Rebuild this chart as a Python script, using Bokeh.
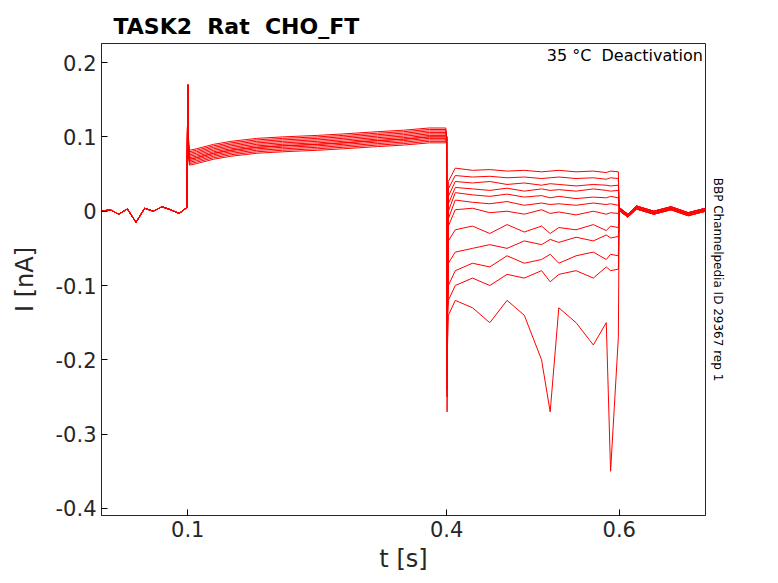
from bokeh.plotting import figure
from bokeh.embed import file_html
from bokeh.resources import INLINE
from bokeh.models import Range1d, FixedTicker, Title, Label

# baseline + activation segment (shared time points)
t_act = [0.0, 0.01, 0.02, 0.03, 0.04, 0.05, 0.06, 0.07, 0.08, 0.09, 0.099, 0.1, 0.1005, 0.101, 0.102, 0.11, 0.13, 0.15, 0.18, 0.21, 0.25, 0.28, 0.32, 0.35, 0.38, 0.399]
i_act = [0.0, 0.002, -0.004, 0.003, -0.015, 0.004, 0.0, 0.006, 0.002, -0.003, 0.005, 0.17, 0.12, 0.08, 0.07, 0.072, 0.078, 0.082, 0.086, 0.088, 0.09, 0.092, 0.095, 0.097, 0.1, 0.1]
act_offsets = [0.012, 0.008, 0.004, 0.0, -0.004, -0.006, 0.01, -0.002, 0.006, 0.002, -0.008, 0.0]

# deactivation tails
t_tail = [0.4, 0.4005, 0.402, 0.41, 0.43, 0.45, 0.47, 0.49, 0.51, 0.52, 0.53, 0.55, 0.57, 0.585, 0.59, 0.599]
tails = [
    [0.1, -0.27, 0.04, 0.058, 0.055, 0.056, 0.054, 0.055, 0.053, 0.054, 0.055, 0.053, 0.054, 0.052, 0.054, 0.053],
    [0.1, -0.25, 0.03, 0.048, 0.046, 0.047, 0.045, 0.046, 0.044, 0.045, 0.046, 0.044, 0.045, 0.043, 0.045, 0.044],
    [0.1, -0.24, 0.02, 0.04, 0.038, 0.04, 0.036, 0.038, 0.035, 0.037, 0.036, 0.034, 0.036, 0.035, 0.034, 0.035],
    [0.1, -0.22, 0.01, 0.032, 0.03, 0.028, 0.031, 0.027, 0.03, 0.028, 0.029, 0.027, 0.03, 0.028, 0.027, 0.028],
    [0.1, -0.2, 0.0, 0.025, 0.022, 0.02, 0.023, 0.019, 0.021, 0.018, 0.02, 0.017, 0.019, 0.018, 0.02, 0.018],
    [0.1, -0.19, -0.01, 0.015, 0.012, 0.01, 0.013, 0.008, 0.011, 0.009, 0.01, 0.008, 0.011, 0.009, 0.01, 0.008],
    [0.1, -0.18, -0.02, 0.002, 0.004, -0.002, 0.0, -0.004, 0.002, -0.003, -0.001, -0.005, 0.0, -0.004, -0.002, -0.003],
    [0.1, -0.17, -0.04, -0.025, -0.02, -0.03, -0.018, -0.028, -0.02, -0.03, -0.022, -0.025, -0.018, -0.026, -0.02, -0.022],
    [0.1, -0.16, -0.07, -0.055, -0.05, -0.045, -0.05, -0.04, -0.045, -0.038, -0.042, -0.035, -0.04, -0.032, -0.036, -0.034],
    [0.1, -0.15, -0.1, -0.08, -0.07, -0.075, -0.06, -0.07, -0.065, -0.058, -0.07, -0.06, -0.055, -0.065, -0.058, -0.06],
    [0.1, -0.15, -0.12, -0.1, -0.09, -0.1, -0.085, -0.09, -0.08, -0.095, -0.085, -0.08, -0.09, -0.075, -0.08, -0.078],
    [0.1, -0.2, -0.14, -0.12, -0.13, -0.15, -0.12, -0.14, -0.2, -0.27, -0.13, -0.15, -0.18, -0.15, -0.35, -0.17],
]
t_after = [0.6, 0.601, 0.61, 0.62, 0.64, 0.66, 0.68, 0.7]
i_after = [0.0, 0.0, -0.008, 0.003, -0.004, 0.002, -0.006, 0.0]
y_ticks = [-0.4, -0.3, -0.2, -0.1, 0, 0.1, 0.2]
y_tick_labels = ["-0.4", "-0.3", "-0.2", "-0.1", "0", "0.1", "0.2"]

p = figure(width=778, height=583, output_backend="svg", toolbar_location=None,
           x_range=Range1d(0.0, 0.7), y_range=Range1d(-0.4095, 0.2257),
           min_border_left=101, min_border_right=73, min_border_top=43, min_border_bottom=68)
p.background_fill_color = "white"
p.outline_line_color = "#262626"
p.grid.visible = False

for k in range(len(tails)):
    xs = t_act + t_tail + t_after
    ys = [v + (act_offsets[k] if (t > 0.1005) else 0) for v, t in zip(i_act, t_act)] + tails[k] + [v + 0.002 * (k % 3) for v in i_after]
    p.line(xs, ys, color="red", line_width=1)

p.xaxis.ticker = FixedTicker(ticks=[0.1, 0.4, 0.6])
p.yaxis.ticker = FixedTicker(ticks=y_ticks)
p.yaxis.major_label_overrides = {t: s for t, s in zip(y_ticks, y_tick_labels)}
for ax in (p.xaxis, p.yaxis):
    ax.major_label_text_font_size = "21px"
    ax.major_label_text_color = "#262626"
    ax.major_label_text_font = "DejaVu Sans"
    ax.axis_label_text_font_size = "24px"
    ax.axis_label_text_font_style = "normal"
    ax.axis_label_text_font = "DejaVu Sans"
    ax.axis_label_text_color = "#262626"
    ax.major_tick_in = 6
    ax.major_tick_out = 0
    ax.minor_tick_line_color = None
    ax.axis_line_color = "#262626"
p.xaxis.axis_label = "t [s]"
p.yaxis.axis_label = "I [nA]"
p.yaxis.axis_label_standoff = 14

p.add_layout(Title(text="TASK2\u00a0\u00a0Rat\u00a0\u00a0CHO_FT", text_font="DejaVu Sans",
                   text_font_size="22px", text_font_style="bold", text_color="black",
                   offset=12), "above")
p.add_layout(Title(text="BBP Channelpedia ID 29367 rep 1", text_font="DejaVu Sans",
                   text_font_size="12px", text_font_style="normal", text_color="black",
                   align="center"), "right")
p.add_layout(Label(x=0.697, y=0.222, text="35 °C\u00a0\u00a0Deactivation", text_align="right", text_baseline="top",
                   text_font="DejaVu Sans", text_font_size="16px", text_color="black"))

open("out.html", "w").write(file_html(p, INLINE))
